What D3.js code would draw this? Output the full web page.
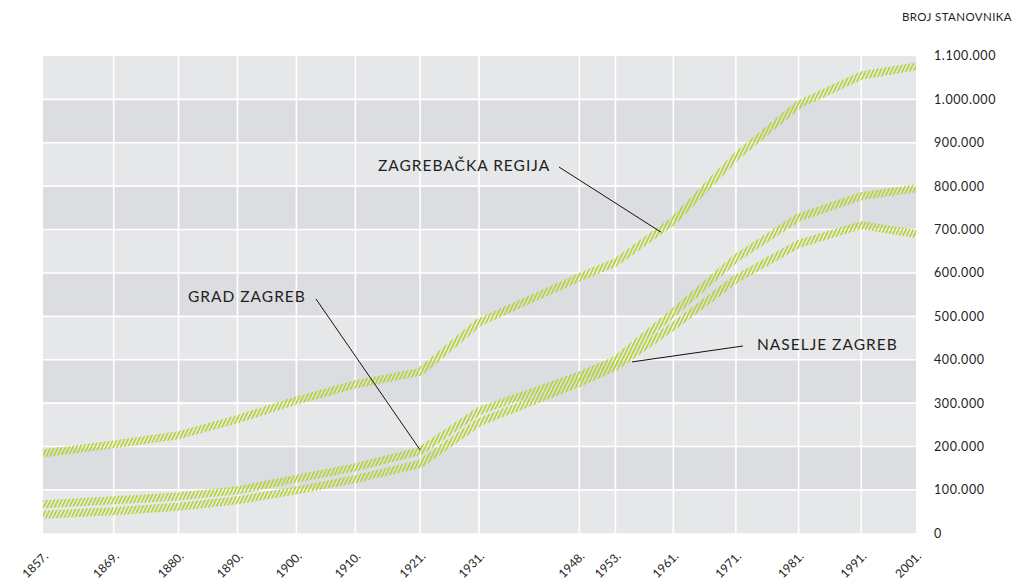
<!DOCTYPE html>
<html>
<head>
<meta charset="utf-8">
<script src="https://cdn.jsdelivr.net/npm/d3@7"></script>
<style>
    body { margin: 0; background: #fff; }
    text { font-family: Lato, "Open Sans", sans-serif; fill: #231f20; }
</style>
</head>
<body>
<div id="container"></div>
<script>
// census years and population
var years = [1857, 1869, 1880, 1890, 1900, 1910, 1921, 1931, 1948, 1953, 1961, 1971, 1981, 1991, 2001];
var regija = [184000, 205000, 226000, 263000, 306000, 343000, 372000, 486000, 590000, 624000, 720000, 868000, 988000, 1055000, 1076000];
var grad = [67000, 76000, 85000, 99000, 126000, 152000, 190000, 282000, 363000, 399000, 508000, 634000, 728000, 777000, 795000];
var naselje = [43000, 51000, 61000, 76000, 99000, 125000, 160000, 256000, 347000, 384000, 477000, 586000, 667000, 710000, 690000];
var seriesNames = ['ZAGREBAČKA REGIJA', 'GRAD ZAGREB', 'NASELJE ZAGREB'];
var yTicks = [0, 100000, 200000, 300000, 400000, 500000, 600000, 700000, 800000, 900000, 1000000, 1100000];
var yTitle = 'BROJ STANOVNIKA';
// where each leader line touches its series (year, population)
var anchorYears = [1959.3, 1921, 1955.3];
var anchorValues = [694000, 192000, 395000];

window.onload = function() {
    PopChart.init();
};

var PopChart = (function(window, document, undefined) {
    var WIDTH = 1025,
        HEIGHT = 586,
        LEFT = 43, RIGHT = 916, TOP = 56, BOTTOM = 533.3,
        GREEN = '#b6d334',
        BAND_LIGHT = '#e6e7e9',
        BAND_DARK = '#dcdde0';

    function init() {
        var svg = d3.select('#container').append('svg').attr('width', WIDTH).attr('height', HEIGHT);
        var pw = RIGHT - LEFT;

        // the printed axis is not quite even in time, so a few breakpoints
        var x = d3.scaleLinear()
            .domain([1857, 1948, 1961, 1991, 2001])
            .range([LEFT, LEFT + pw * 0.6143, LEFT + pw * 0.7220, LEFT + pw * 0.9373, RIGHT]);
        var y = d3.scaleLinear().domain([0, 1100000]).range([BOTTOM, TOP]);

        var defs = svg.append('defs');
        defs.append('pattern')
            .attr('id', 'hatch')
            .attr('patternUnits', 'userSpaceOnUse')
            .attr('width', 3.3).attr('height', 10)
            .attr('patternTransform', 'rotate(26)')
            .append('rect')
            .attr('width', 1.6).attr('height', 10)
            .attr('fill', GREEN);

        // alternating bands
        var bands = d3.range(yTicks.length - 1);
        svg.append('g').selectAll('rect').data(bands).enter().append('rect')
            .attr('x', LEFT).attr('width', pw)
            .attr('y', function(i) { return y(yTicks[i + 1]); })
            .attr('height', function(i) { return y(yTicks[i]) - y(yTicks[i + 1]); })
            .attr('fill', function(i) { return i % 2 ? BAND_DARK : BAND_LIGHT; });

        // white grid
        var grid = svg.append('g').attr('stroke', '#fff').attr('stroke-width', 1.6);
        grid.selectAll('line.h').data(yTicks.slice(1, -1)).enter().append('line')
            .attr('x1', LEFT).attr('x2', RIGHT)
            .attr('y1', function(d) { return y(d); }).attr('y2', function(d) { return y(d); });
        grid.selectAll('line.v').data(years.slice(1, -1)).enter().append('line')
            .attr('y1', TOP).attr('y2', BOTTOM)
            .attr('x1', function(d) { return x(d); }).attr('x2', function(d) { return x(d); });

        // y labels on the right
        svg.append('g').selectAll('text').data(yTicks).enter().append('text')
            .attr('x', 934)
            .attr('y', function(d) { return y(d); })
            .attr('dy', '0.35em')
            .style('font-size', '12.5px')
            .style('letter-spacing', '0.6px')
            .text(function(d) { return d === 0 ? '0' : d3.format(',')(d).replace(/,/g, '.'); });

        svg.append('text')
            .attr('x', 1012).attr('y', 17)
            .attr('dy', '0.35em')
            .attr('text-anchor', 'end')
            .style('font-size', '11.5px')
            .style('letter-spacing', '0.4px')
            .text(yTitle);

        // x labels, rotated
        svg.append('g').selectAll('text').data(years).enter().append('text')
            .attr('transform', function(d) { return 'translate(' + (x(d) + 6) + ',557) rotate(-45)'; })
            .attr('text-anchor', 'end')
            .style('font-size', '12px')
            .text(function(d) { return d + '.'; });

        // hatched series
        var line = d3.line()
            .x(function(d, i) { return x(years[i]); })
            .y(function(d) { return y(d); });
        svg.append('g').selectAll('path').data([regija, grad, naselje]).enter().append('path')
            .attr('d', line)
            .attr('fill', 'none')
            .attr('stroke', 'url(#hatch)')
            .attr('stroke-width', 8)
            .attr('stroke-linejoin', 'round');

        // labels with leader lines
        var textPos = [[378, 166, 'start', 559, 167], [188, 297, 'start', 316, 299], [757, 345, 'start', 743, 346]];
        var ann = svg.append('g');
        seriesNames.forEach(function(name, i) {
            var p = textPos[i];
            ann.append('line')
                .attr('x1', p[3]).attr('y1', p[4])
                .attr('x2', x(anchorYears[i])).attr('y2', y(anchorValues[i]))
                .attr('stroke', '#111').attr('stroke-width', 1);
            ann.append('text')
                .attr('x', p[0]).attr('y', p[1])
                .attr('dy', '0.35em')
                .attr('text-anchor', p[2])
                .style('font-size', '15.5px')
                .style('letter-spacing', '1px')
                .text(name);
        });
    }

    return {
        init: init
    };
})(window, document);
</script>
</body>
</html>
